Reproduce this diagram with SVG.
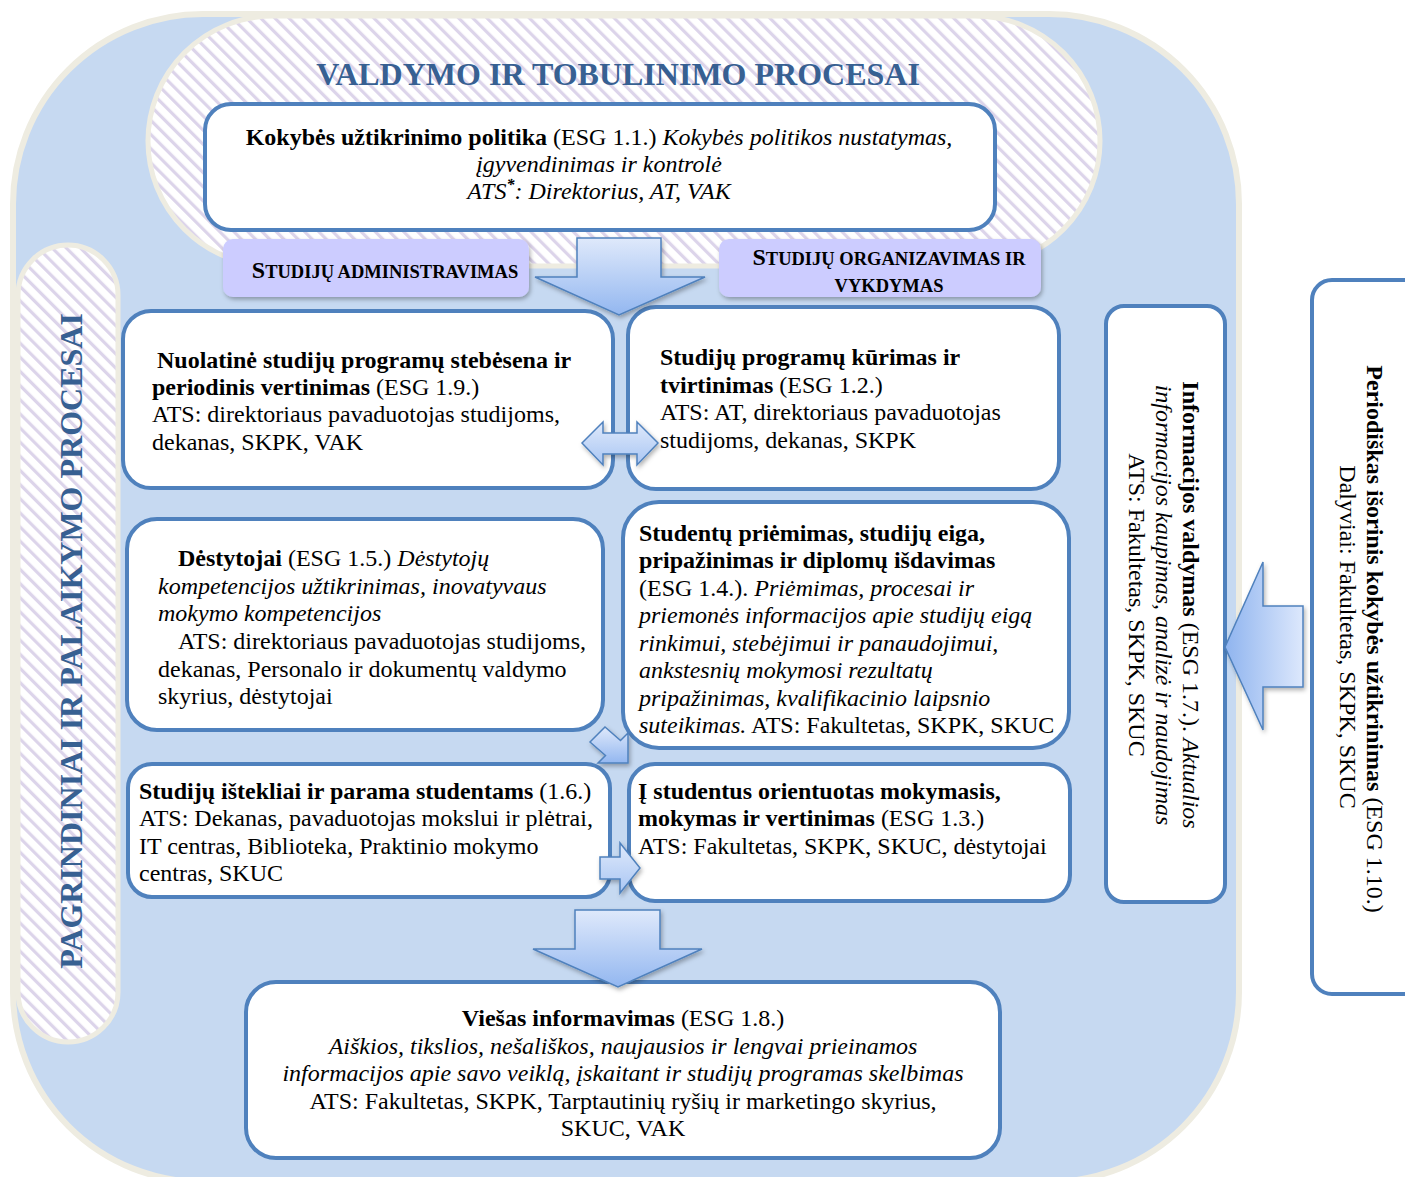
<svg xmlns="http://www.w3.org/2000/svg" width="1405" height="1177" viewBox="0 0 1405 1177">
<defs>
  <pattern id="stripes" patternUnits="userSpaceOnUse" width="10" height="10" patternTransform="rotate(-45)">
    <rect width="10" height="10" fill="#ffffff"/>
    <rect x="0" y="0" width="3.2" height="10" fill="#dcd4ea"/>
  </pattern>
  <linearGradient id="gDown" x1="0" y1="0" x2="0" y2="1">
    <stop offset="0" stop-color="#dfe9fb"/>
    <stop offset="1" stop-color="#93b7f0"/>
  </linearGradient>
  <linearGradient id="gLeft" x1="1" y1="0" x2="0" y2="0">
    <stop offset="0" stop-color="#dde8fc"/>
    <stop offset="1" stop-color="#8fb4ef"/>
  </linearGradient>
  <linearGradient id="gH" x1="0" y1="0" x2="0" y2="1">
    <stop offset="0" stop-color="#dfe9fb"/>
    <stop offset="1" stop-color="#a9c6f3"/>
  </linearGradient>
  <filter id="shadow" x="-20%" y="-20%" width="140%" height="150%">
    <feDropShadow dx="1.5" dy="2.5" stdDeviation="2" flood-color="#000" flood-opacity="0.3"/>
  </filter>
</defs>
<style>
  text { font-family: "Liberation Serif", "Times New Roman", serif; fill: #000; }
  .t { font-size: 24px; }
  .b { font-weight: bold; }
  .i { font-style: italic; }
  .box { fill: #ffffff; stroke: #4f81bd; stroke-width: 4; }
  .lbl { fill: #ccccff; filter: url(#shadow); }
  .cap { font-weight: bold; font-size: 18.5px; }
  .capS { font-size: 24px; }
  .head { font-weight: bold; font-size: 32px; fill: #376092; }
  .arrow { stroke: #4f81bd; stroke-width: 1.5; filter: url(#shadow); }
  .pill { fill: url(#stripes); stroke: #eeece1; stroke-width: 5; }
</style>

<!-- background areas -->
<rect id="outer" x="13" y="14" width="1226" height="1168" rx="190" ry="190" fill="#c6d9f1" stroke="#eeece1" stroke-width="6"/>
<g id="valdymo">
  <rect x="148" y="16" width="952" height="250" rx="125" ry="125" class="pill"/>
  <text x="618" y="85" text-anchor="middle" class="head">VALDYMO IR TOBULINIMO PROCESAI</text>
</g>
<g id="pagrindiniai">
  <rect x="18" y="245" width="100" height="797" rx="50" ry="50" class="pill"/>
  <text transform="translate(82,641) rotate(-90)" text-anchor="middle" class="head">PAGRINDINIAI IR PALAIKYMO PROCESAI</text>
</g>

<!-- nodes -->
<g id="politika">
  <rect x="205" y="104" width="790" height="126" rx="26" class="box"/>
  <text class="t" text-anchor="middle" x="599" y="145"><tspan class="b">Kokybės užtikrinimo politika</tspan> (ESG 1.1.) <tspan class="i">Kokybės politikos  nustatymas,</tspan></text>
  <text class="t i" text-anchor="middle" x="599" y="172">įgyvendinimas ir kontrolė</text>
  <text class="t i" text-anchor="middle" x="599" y="199">ATS<tspan dy="-9" font-size="16" font-weight="bold">*</tspan><tspan dy="9">: Direktorius, AT, VAK</tspan></text>
</g>

<g id="lbl-admin">
  <rect x="223" y="239" width="306" height="58" rx="10" class="lbl"/>
  <text x="385" y="278" text-anchor="middle" class="cap"><tspan class="capS">S</tspan>TUDIJŲ ADMINISTRAVIMAS</text>
</g>
<g id="lbl-org">
  <rect x="719" y="239" width="322" height="58" rx="10" class="lbl"/>
  <text x="889" y="265" text-anchor="middle" class="cap"><tspan class="capS">S</tspan>TUDIJŲ ORGANIZAVIMAS IR</text>
  <text x="889" y="292" text-anchor="middle" class="cap">VYKDYMAS</text>
</g>

<g id="stebesena">
  <rect x="123" y="311" width="490" height="177" rx="28" class="box"/>
  <text class="t b" x="157" y="368">Nuolatinė studijų programų stebėsena ir</text>
  <text class="t" x="152" y="395"><tspan class="b">periodinis vertinimas</tspan>  (ESG 1.9.)</text>
  <text class="t" x="152" y="422">ATS: direktoriaus pavaduotojas studijoms,</text>
  <text class="t" x="152" y="450">dekanas, SKPK, VAK</text>
</g>

<g id="kurimas">
  <rect x="628" y="307" width="431" height="182" rx="28" class="box"/>
  <text class="t b" x="660" y="365">Studijų programų kūrimas ir</text>
  <text class="t" x="660" y="393"><tspan class="b">tvirtinimas</tspan> (ESG 1.2.)</text>
  <text class="t" x="660" y="420">ATS: AT, direktoriaus pavaduotojas</text>
  <text class="t" x="660" y="448">studijoms, dekanas, SKPK</text>
</g>

<g id="destytojai">
  <rect x="127" y="519" width="476" height="211" rx="30" class="box"/>
  <text class="t" x="178" y="566"><tspan class="b">Dėstytojai</tspan> (ESG 1.5.) <tspan class="i">Dėstytojų</tspan></text>
  <text class="t i" x="158" y="594">kompetencijos užtikrinimas, inovatyvaus</text>
  <text class="t i" x="158" y="621">mokymo kompetencijos</text>
  <text class="t" x="178" y="649">ATS: direktoriaus pavaduotojas studijoms,</text>
  <text class="t" x="158" y="677">dekanas, Personalo ir dokumentų valdymo</text>
  <text class="t" x="158" y="704">skyrius, dėstytojai</text>
</g>

<g id="priemimas">
  <rect x="623" y="502" width="446" height="246" rx="36" class="box"/>
  <text class="t b" x="639" y="541">Studentų priėmimas, studijų eiga,</text>
  <text class="t b" x="639" y="568">pripažinimas ir diplomų išdavimas</text>
  <text class="t" x="639" y="596">(ESG 1.4.). <tspan class="i">Priėmimas, procesai ir</tspan></text>
  <text class="t i" x="639" y="623">priemonės informacijos apie studijų eigą</text>
  <text class="t i" x="639" y="651">rinkimui, stebėjimui ir panaudojimui,</text>
  <text class="t i" x="639" y="678">ankstesnių mokymosi rezultatų</text>
  <text class="t i" x="639" y="706">pripažinimas, kvalifikacinio laipsnio</text>
  <text class="t" x="639" y="733"><tspan class="i">suteikimas.</tspan> ATS: Fakultetas, SKPK, SKUC</text>
</g>

<g id="istekliai">
  <rect x="128" y="764" width="482" height="133" rx="24" class="box"/>
  <text class="t" x="139" y="799"><tspan class="b">Studijų ištekliai ir parama studentams</tspan> (1.6.)</text>
  <text class="t" x="139" y="826">ATS: Dekanas, pavaduotojas mokslui ir plėtrai,</text>
  <text class="t" x="139" y="854">IT centras, Biblioteka, Praktinio mokymo</text>
  <text class="t" x="139" y="881">centras, SKUC</text>
</g>

<g id="orientuotas">
  <rect x="629" y="764" width="441" height="137" rx="26" class="box"/>
  <text class="t b" x="638" y="799">Į studentus orientuotas mokymasis,</text>
  <text class="t" x="638" y="826"><tspan class="b">mokymas ir vertinimas</tspan> (ESG 1.3.)</text>
  <text class="t" x="638" y="854">ATS: Fakultetas, SKPK, SKUC, dėstytojai</text>
</g>

<g id="informavimas">
  <rect x="246" y="982" width="754" height="176" rx="30" class="box"/>
  <text class="t" text-anchor="middle" x="623" y="1026"><tspan class="b">Viešas informavimas</tspan> (ESG 1.8.)</text>
  <text class="t i" text-anchor="middle" x="623" y="1054">Aiškios, tikslios, nešališkos, naujausios ir lengvai prieinamos</text>
  <text class="t i" text-anchor="middle" x="623" y="1081">informacijos apie savo veiklą, įskaitant ir studijų programas skelbimas</text>
  <text class="t" text-anchor="middle" x="623" y="1109">ATS: Fakultetas, SKPK, Tarptautinių ryšių ir marketingo skyrius,</text>
  <text class="t" text-anchor="middle" x="623" y="1136">SKUC, VAK</text>
</g>

<g id="valdymas">
  <rect x="1106" y="306" width="119" height="596" rx="18" class="box"/>
  <text class="t" text-anchor="middle" transform="translate(1183,605) rotate(90)"><tspan class="b">Informacijos valdymas</tspan> (ESG 1.7.). <tspan class="i">Aktualios</tspan></text>
  <text class="t i" text-anchor="middle" transform="translate(1156,605) rotate(90)">informacijos kaupimas, analizė ir naudojimas</text>
  <text class="t" text-anchor="middle" transform="translate(1129,605) rotate(90)">ATS: Fakultetas, SKPK, SKUC</text>
</g>

<g id="isorinis">
  <rect x="1312" y="280" width="120" height="714" rx="20" class="box"/>
  <text class="t" text-anchor="middle" transform="translate(1367,639) rotate(90)"><tspan class="b">Periodiškas išorinis kokybės užtikrinimas</tspan> (ESG 1.10.)</text>
  <text class="t" text-anchor="middle" transform="translate(1340,637) rotate(90)">Dalyviai: Fakultetas, SKPK, SKUC</text>
</g>

<!-- connectors -->
<g id="connectors">
  <polygon class="arrow" fill="url(#gDown)" points="577,238 661,238 661,277 705,277 619,315 535,277 577,277"/>
  <polygon class="arrow" fill="url(#gH)" points="582,443 603,422 603,433 637,433 637,422 658,443 637,465 637,454 603,454 603,465"/>
  <polygon class="arrow" fill="url(#gDown)" points="590,742 605,727 620.5,740.5 628,733 628,763 598,763 605.5,755.5"/>
  <polygon class="arrow" fill="url(#gH)" points="600,857 620,857 620,843 640,868 620,893 620,879 600,879"/>
  <polygon class="arrow" fill="url(#gDown)" points="575,910 660,910 660,949 702,949 618,987 533,949 575,949"/>
  <polygon class="arrow" fill="url(#gLeft)" points="1303,606 1263,606 1263,562 1225,647 1263,730 1263,687 1303,687"/>
</g>
</svg>
